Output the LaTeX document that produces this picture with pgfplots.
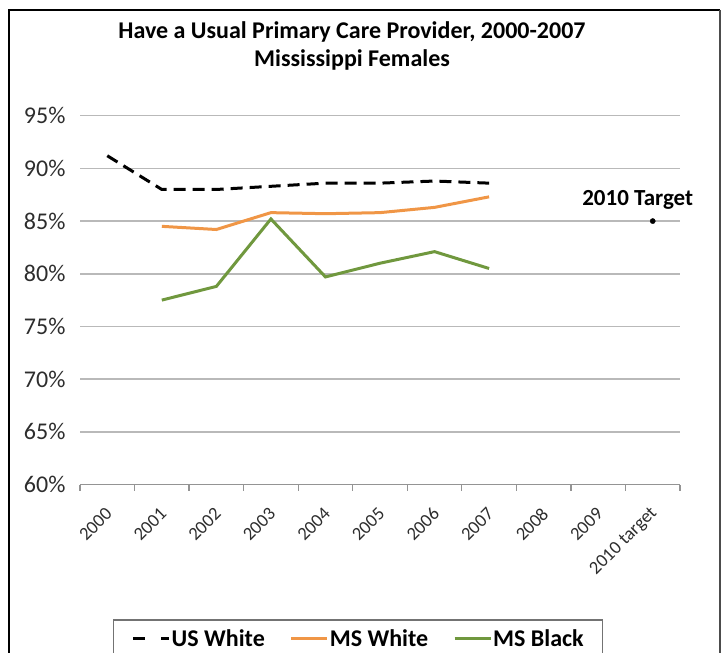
\documentclass[border=0pt]{standalone}
\usepackage{fontspec}
\setmainfont{Carlito}
\usepackage{pgfplots}
\pgfplotsset{compat=1.18}
\definecolor{usw}{RGB}{0,0,0}
\definecolor{msw}{RGB}{240,150,70}
\definecolor{msb}{RGB}{112,152,62}
\definecolor{gridc}{RGB}{185,185,185}
\definecolor{ticktext}{RGB}{45,45,45}
\begin{document}
\begin{tikzpicture}
\useasboundingbox (0pt,0pt) rectangle (721pt,-653pt);
\draw[line width=2.4pt] (9pt,-700pt) -- (9pt,-10pt) -- (720pt,-10pt);
\draw[line width=1.6pt,black!70] (720pt,-10pt) -- (720pt,-700pt);
\node[font=\fontsize{24}{28}\selectfont\bfseries,align=center] at (352pt,-46pt) {Have a Usual Primary Care Provider, 2000-2007\\Mississippi Females};
\begin{axis}[
  at={(80pt,-484.5pt)}, anchor=south west,
  scale only axis, width=600pt, height=368.8pt,
  xmin=-0.5, xmax=10.5, ymin=60, ymax=95,
  axis lines*=left,
  axis line style={-},
  y axis line style={draw=none},
  x axis line style={draw=gridc!80!black, line width=1.5pt},
  ymajorgrids, grid style={draw=gridc, line width=1.5pt},
  ytick={60,65,...,95},
  yticklabel={\pgfmathprintnumber{\tick}\%},
  ytick style={draw=none},
  yticklabel style={xshift=-11pt, text=ticktext, font=\fontsize{24}{28}\selectfont},
  xtick={0,...,10},
  xticklabels={2000,2001,2002,2003,2004,2005,2006,2007,2008,2009,2010 target},
  xtick style={draw=none},
  xticklabel style={xshift=4pt, yshift=-24pt, rotate=45, anchor=east, text=ticktext, font=\fontsize{18.5}{21}\selectfont},
  extra x ticks={-0.5,0.5,...,10.5},
  extra x tick labels={},
  extra x tick style={major tick length=6pt, tick align=outside, xtick style={draw=gridc!80!black, line width=1.2pt}, xticklabel style={draw=none}},
  /pgf/number format/assume math mode=true,
  legend style={at={(0.055,-0.366)}, anchor=north west, draw=black!55, line width=1.5pt,
    font=\fontsize{24}{27}\selectfont\bfseries, legend columns=3,
    inner xsep=18pt, inner ysep=7pt,
    nodes={inner xsep=1pt},
    /tikz/every even column/.append style={column sep=24pt}},
  legend image code/.code={\draw[#1] (0pt,0pt) -- (36pt,0pt);},
  clip=false,
]
\addplot[usw, line width=3pt, dash pattern=on 12pt off 7pt,
  legend image code/.code={\draw[line width=3pt,black] (0pt,0pt) -- (16pt,0pt); \draw[line width=3pt,black] (28pt,0pt) -- (36pt,0pt);}] coordinates {
(0,91.2) (1,88.0) (2,88.0) (3,88.3) (4,88.6) (5,88.6) (6,88.8) (7,88.6)};
\addlegendentry{US White}
\addplot[msw, line width=3pt] coordinates {
(1,84.5) (2,84.2) (3,85.8) (4,85.7) (5,85.8) (6,86.3) (7,87.3)};
\addlegendentry{MS White}
\addplot[msb, line width=3pt] coordinates {
(1,77.5) (2,78.8) (3,85.2) (4,79.7) (5,81.0) (6,82.1) (7,80.5)};
\addlegendentry{MS Black}
\addplot[only marks, mark=*, mark size=2.6pt, black, forget plot] coordinates {(10,85)};
\node[font=\fontsize{23}{26}\selectfont\bfseries, anchor=center] at (axis cs:10,85) [xshift=-15pt, yshift=21pt] {2010 Target};
\end{axis}
\end{tikzpicture}
\end{document}
